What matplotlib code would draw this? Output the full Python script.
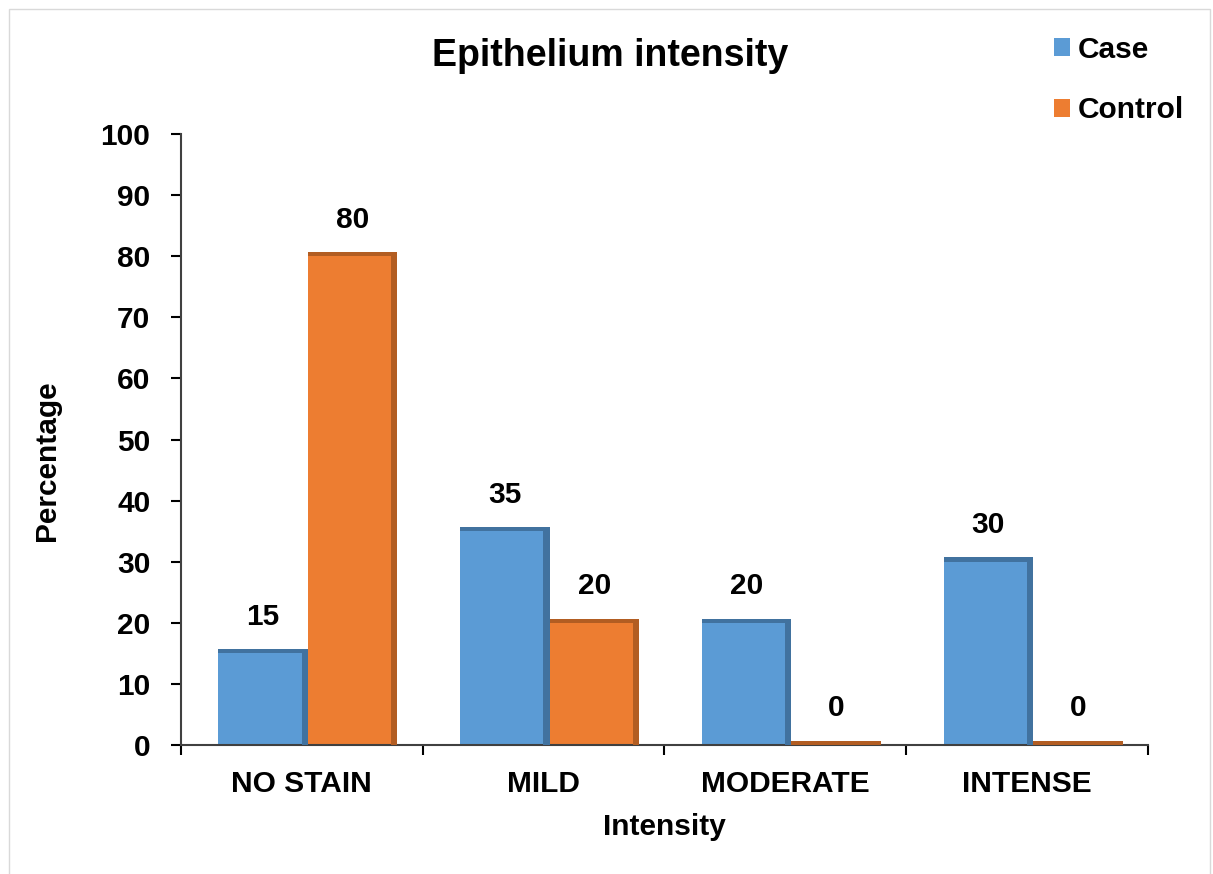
import numpy as np
import matplotlib
matplotlib.use('Agg')
import matplotlib.pyplot as plt
from matplotlib.patches import Patch, Rectangle

plt.rcParams['font.family'] = ['Liberation Sans', 'DejaVu Sans']
plt.rcParams['font.weight'] = 'bold'

# 数据
categories = ['NO STAIN', 'MILD', 'MODERATE', 'INTENSE']
case_values = [15, 35, 20, 30]
control_values = [80, 20, 0, 0]
series_names = ['Case', 'Control']

# 颜色
face_colors = ['#5B9BD5', '#ED7D31']
dark_colors = ['#41729F', '#B25D22']

fig = plt.figure(figsize=(12.13, 8.74), dpi=100)
ax = fig.add_axes([0.1492, 0.1476, 0.7972, 0.699])

x = np.arange(len(categories))
width = 0.37
offsets = [-0.16, 0.21]
fs = 21.5

for values, off, fc, dc in zip([case_values, control_values], offsets, face_colors, dark_colors):
    pos = x + off
    ax.bar(pos, values, width=width, color=fc, edgecolor='none', zorder=2)
    # 侧面和顶面，模拟立体效果
    ax.bar(pos + width / 2 - 0.013, values, width=0.026, color=dc, edgecolor='none', zorder=3)
    ax.bar(pos, 0.7, bottom=values, width=width, color=dc, edgecolor='none', zorder=3)
    for p, v in zip(pos, values):
        ax.text(p, v + 6.0, '%d' % v, ha='center', va='center', fontsize=fs, fontweight='bold', zorder=4)

ax.set_xlim(-0.5, len(categories) - 0.5)
ax.set_ylim(0, 100)
ax.set_yticks(range(0, 101, 10))
ax.tick_params(axis='y', direction='out', length=7, width=1.5, pad=15, labelsize=fs)

# 分类边界处的刻度线
ax.set_xticks(np.arange(-0.5, len(categories), 1))
ax.set_xticklabels([])
ax.set_xticks(x, minor=True)
ax.set_xticklabels(categories, minor=True)
ax.tick_params(axis='x', which='major', direction='out', length=7, width=1.5)
ax.tick_params(axis='x', which='minor', length=0, pad=18, labelsize=fs)

for side in ['top', 'right']:
    ax.spines[side].set_visible(False)
for side in ['left', 'bottom']:
    ax.spines[side].set_linewidth(1.5)
    ax.spines[side].set_color('#404040')

ax.set_xlabel('Intensity', fontsize=fs, fontweight='bold')
ax.xaxis.set_label_coords(0.5, -0.111)
ax.set_ylabel('Percentage', fontsize=fs, fontweight='bold')
ax.yaxis.set_label_coords(-0.124, 0.466)

fig.text(610 / 1213, 1 - 56 / 874, 'Epithelium intensity', ha='center', va='center',
         fontsize=27, fontweight='bold')

handles = [Patch(facecolor=c, edgecolor='none') for c in face_colors]
fig.legend(handles, series_names, loc='upper left', bbox_to_anchor=(1039 / 1213, 1 - 21 / 874),
           frameon=False, fontsize=fs, handlelength=0.55, handleheight=0.55,
           handletextpad=0.25, labelspacing=1.08, borderpad=0)

# 外边框
fig.patches.append(Rectangle((9 / 1213, -0.02), 1201 / 1213, 1.02 - 9 / 874,
                             transform=fig.transFigure, fill=False, edgecolor='#D9D9D9', linewidth=1))

plt.savefig('out.png', dpi=100)
